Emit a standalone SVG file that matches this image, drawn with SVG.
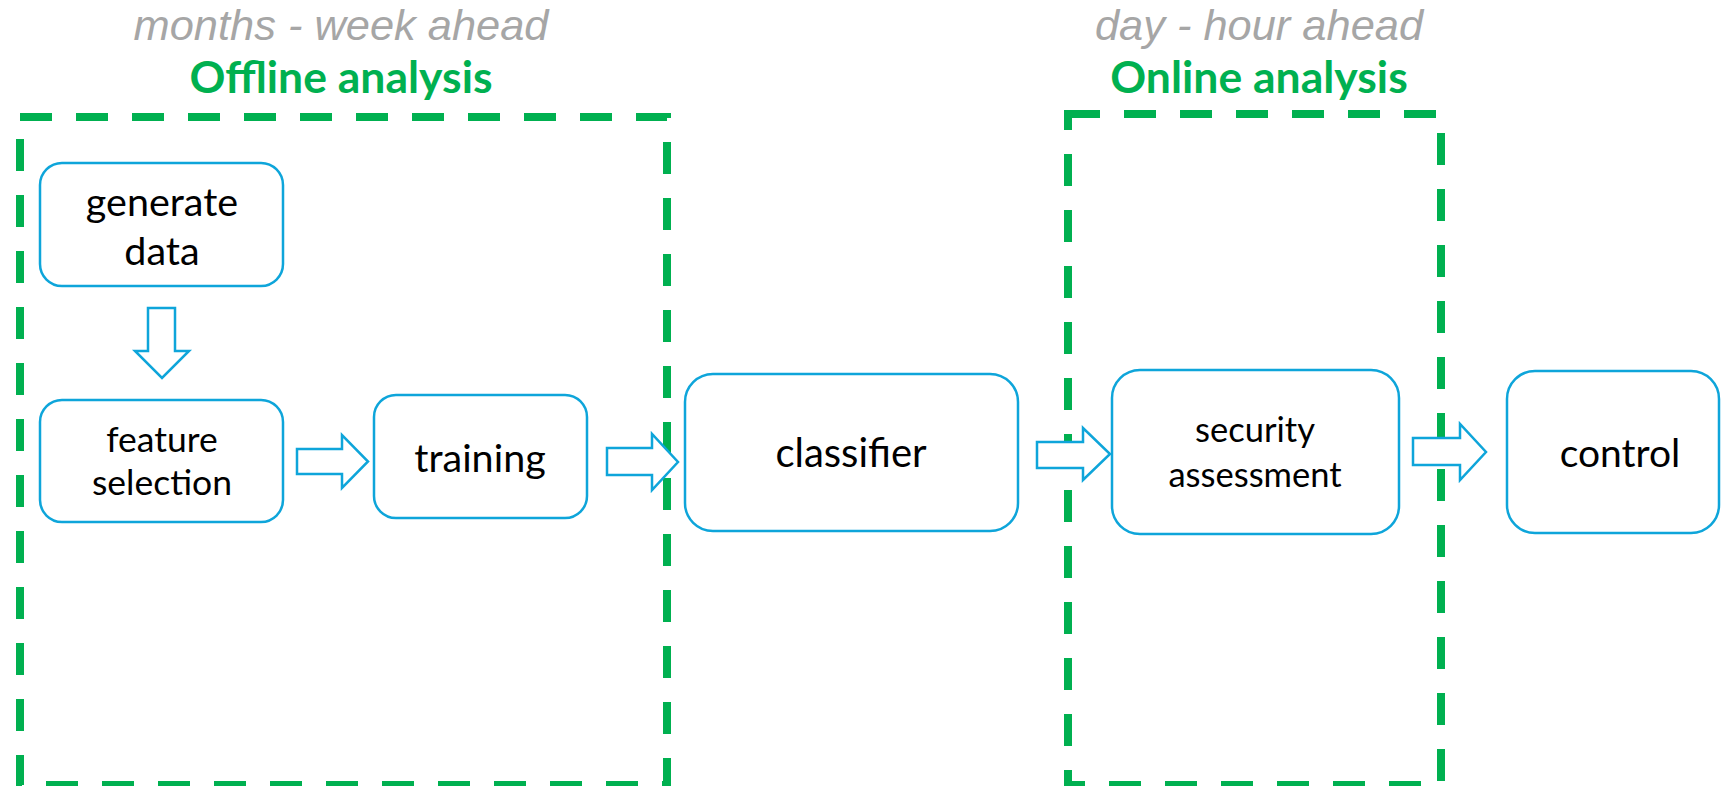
<svg xmlns="http://www.w3.org/2000/svg" width="1721" height="786" viewBox="0 0 1721 786">
<style>
.zone{fill:none;stroke:#00B050;stroke-width:8;stroke-dasharray:32 24}
.node{fill:#fff;stroke:#0EA5DA;stroke-width:2.5}
.arr{fill:#fff;stroke:#0EA5DA;stroke-width:2.5;stroke-linejoin:miter}
.lbl{font-family:Lato,"Open Sans","Liberation Sans",sans-serif;fill:#000;text-anchor:middle}
.sub{font-family:"Liberation Sans",Arial,sans-serif;font-style:italic;fill:#A6A6A6;text-anchor:middle;font-size:43.4px}
.ttl{font-family:Lato,"Open Sans","Liberation Sans",sans-serif;font-weight:bold;fill:#00B050;text-anchor:middle;font-size:44.5px}
</style>
<rect width="1721" height="786" fill="#fff"/>
<g id="offline-zone">
<rect class="zone" x="20" y="117" width="647" height="668"/>
<text class="sub" x="341" y="39.7">months - week ahead</text>
<text class="ttl" x="341" y="93">Offline analysis</text>
</g>
<g id="online-zone">
<rect class="zone" x="1068" y="114" width="373" height="671"/>
<text class="sub" x="1259" y="39.7">day - hour ahead</text>
<text class="ttl" x="1259" y="93">Online analysis</text>
</g>
<g id="connectors">
<path class="arr" d="M148,308 H175 V351 H189 L162,378 L135,351 H148 Z"/>
<path class="arr" d="M297,449 H342 V435 L368,461.5 L342,488 V474 H297 Z"/>
<path class="arr" d="M607,448 H652 V434 L678,462 L652,490 V475 H607 Z"/>
<path class="arr" d="M1037,442 H1083 V428 L1110,454 L1083,480 V468 H1037 Z"/>
<path class="arr" d="M1413,438 H1460 V424 L1486,452 L1460,480 V465 H1413 Z"/>
</g>
<g id="generate-data">
<rect class="node" x="40" y="163" width="243" height="123" rx="22"/>
<text class="lbl" x="162" y="216" font-size="39.5">generate</text>
<text class="lbl" x="162" y="265" font-size="39.5">data</text>
</g>
<g id="feature-selection">
<rect class="node" x="40" y="400" width="243" height="122" rx="22"/>
<text class="lbl" x="162" y="452" font-size="35.5">feature</text>
<text class="lbl" x="162" y="495" font-size="35.5">selection</text>
</g>
<g id="training">
<rect class="node" x="374" y="395" width="213" height="123" rx="22"/>
<text class="lbl" x="480" y="472" font-size="39.5">training</text>
</g>
<g id="classifier">
<rect class="node" x="685" y="374" width="333" height="157" rx="28"/>
<text class="lbl" x="851" y="467" font-size="40">classifier</text>
</g>
<g id="security-assessment">
<rect class="node" x="1112" y="370" width="287" height="164" rx="28"/>
<text class="lbl" x="1255" y="442" font-size="34.5">security</text>
<text class="lbl" x="1255" y="487" font-size="34.5">assessment</text>
</g>
<g id="control">
<rect class="node" x="1507" y="371" width="212" height="162" rx="28"/>
<text class="lbl" x="1620" y="467" font-size="39">control</text>
</g>
</svg>
